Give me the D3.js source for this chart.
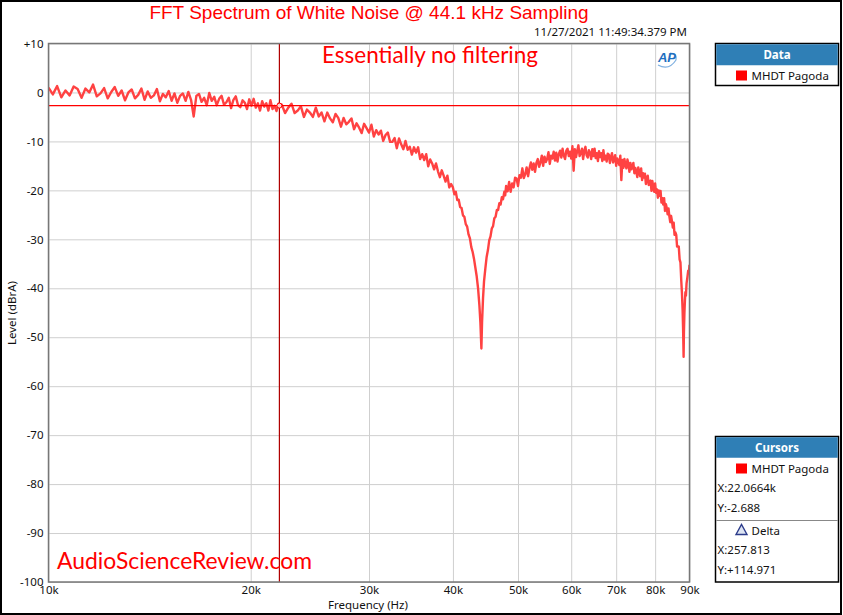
<!DOCTYPE html>
<html>
<head>
<meta charset="utf-8">
<script src="https://cdn.jsdelivr.net/npm/d3@7"></script>
<style>
  body { margin: 0; background: #fff; }
  svg { display: block; }
  .tick text { font-family: "Noto Sans", sans-serif; font-size: 11.5px; fill: #111; }
  .panel-text { font-family: "Noto Sans", sans-serif; font-size: 11.5px; fill: #111; }
</style>
</head>
<body>
<div id="chart-area"></div>
<script>

// spectrum of the noise, [kHz, dBrA]
var lowBand = [
  [10.00,1.0],[10.15,-0.4],[10.30,1.3],[10.45,-1.0],[10.60,0.4],[10.75,-0.6],[10.90,1.2],[11.05,0.7],
  [11.20,-1.1],[11.35,0.8],[11.50,0.0],[11.65,1.6],[11.80,-0.8],[11.95,-0.2],[12.10,0.9],[12.25,-1.2],
  [12.40,0.1],[12.55,1.1],[12.70,-0.7],[12.85,0.4],[13.00,-1.6],[13.15,0.0],[13.30,0.6],[13.45,-1.2],
  [13.60,-0.5],[13.75,0.8],[13.90,-1.5],[14.05,0.2],[14.20,-1.1],[14.35,-0.6],[14.50,0.7],[14.65,-1.8],
  [14.80,-0.3],[14.95,-1.0],[15.10,0.3],[15.25,-1.7],[15.40,-0.2],[15.55,-2.1],[15.70,-0.7],[15.85,-0.2],
  [16.00,-1.7],[16.15,0.1],[16.30,-1.5],[16.45,-4.9],[16.60,-0.7],[16.75,-0.3],[16.90,-1.9],[17.05,-1.1],
  [17.20,-2.6],[17.35,-0.1],[17.50,-1.7],[17.65,-0.9],[17.80,-2.6],[17.95,-1.3],[18.10,-0.7],[18.25,-2.5],
  [18.40,-2.0],[18.55,-1.1],[18.70,-3.2],[18.85,-1.5],[19.00,-0.8],[19.15,-2.6],[19.30,-3.0],[19.45,-1.6],
  [19.60,-2.1],[19.75,-3.4],[19.90,-1.4],[20.05,-2.7],[20.20,-1.3],[20.35,-3.1],[20.50,-2.2],[20.65,-3.7],
  [20.80,-1.8],[20.95,-2.9],[21.10,-2.2],[21.25,-3.7],[21.40,-1.6],[21.55,-3.4],[21.70,-2.7],[21.85,-3.8],
  [22.00,-2.3]
];
var midBand = [
  [22.25,-2.5],[22.50,-4.2],[22.75,-3.1],[23.00,-2.3],[23.25,-4.2],[23.50,-3.7],[23.75,-2.8],[24.00,-5.0],
  [24.25,-3.5],[24.50,-4.1],[24.75,-5.0],[25.00,-3.1],[25.25,-4.9],[25.50,-4.1],[25.75,-5.9],[26.00,-4.1],
  [26.25,-5.3],[26.50,-6.1],[26.75,-4.4],[27.00,-5.2],[27.25,-7.0],[27.50,-5.2],[27.75,-6.5],[28.00,-6.0],
  [28.25,-5.3],[28.50,-7.5],[28.75,-6.3],[29.00,-7.2],[29.25,-8.3],[29.50,-6.4],[29.75,-7.3],[30.00,-8.2],
  [30.25,-6.6],[30.50,-9.0],[30.75,-7.7],[31.00,-8.6],[31.25,-7.8],[31.50,-9.9],[31.75,-8.7],[32.00,-8.2],
  [32.25,-10.1],[32.50,-10.1],[32.75,-9.3],[33.00,-11.4],[33.25,-9.4],[33.50,-10.6],[33.75,-11.6],[34.00,-9.9],
  [34.25,-11.7],[34.50,-11.1],[34.75,-12.7],[35.00,-11.2],[35.25,-12.3],[35.50,-11.2],[35.75,-13.6],[36.00,-12.6],
  [36.25,-13.8],[36.50,-12.6],[36.75,-15.1],[37.00,-13.7],[37.25,-14.5],[37.50,-15.7],[37.75,-14.5],[38.00,-16.1],
  [38.25,-17.3],[38.50,-15.9],[38.75,-17.0],[39.00,-18.2],[39.25,-17.0],[39.50,-19.4],[39.75,-18.7]
];
var notchOne = [
  [40.0,-19.4],[40.2,-20.8],[40.4,-20.3],[40.6,-22.0],[40.8,-21.9],[41.0,-23.4],[41.2,-23.6],[41.4,-25.1],
  [41.6,-25.4],[41.8,-26.9],[42.0,-27.4],[42.2,-29.0],[42.4,-29.8],[42.6,-31.6],[42.8,-32.6],[43.0,-34.0],
  [43.2,-35.8],[43.4,-37.6],[43.6,-40.0],[43.8,-43.5],[43.95,-47.0],[44.1,-52.3],[44.2,-47.0],[44.35,-42.0],
  [44.5,-38.6],[44.7,-36.0],[44.9,-33.6],[45.1,-32.2],[45.3,-30.2],[45.5,-29.4],[45.7,-27.8],[45.9,-27.3],
  [46.1,-25.7],[46.3,-25.4],[46.5,-24.0],[46.7,-24.0],[46.9,-22.6],[47.1,-22.9],[47.3,-21.4],[47.5,-21.8],
  [47.7,-20.3],[47.85,-21.0]
];
var upperBand = [
  [48.00,-19.1],[48.25,-20.2],[48.50,-18.3],[48.75,-20.3],[49.00,-18.6],[49.25,-19.4],[49.50,-17.4],[49.75,-17.6],
  [50.00,-19.1],[50.25,-16.9],[50.50,-17.4],[50.75,-15.5],[51.00,-17.5],[51.25,-16.7],[51.50,-15.3],[51.75,-17.1],
  [52.00,-15.5],[52.25,-14.3],[52.50,-15.8],[52.75,-14.5],[53.00,-16.2],[53.25,-14.4],[53.50,-13.6],[53.75,-15.2],
  [54.00,-14.3],[54.25,-12.9],[54.50,-15.0],[54.75,-13.1],[55.00,-14.2],[55.25,-13.6],[55.50,-12.2],[55.75,-14.6],
  [56.00,-12.9],[56.25,-13.5],[56.50,-12.1],[56.75,-13.9],[57.00,-12.3],[57.25,-14.1],[57.50,-12.6],[57.75,-11.9],
  [58.00,-13.3],[58.25,-11.5],[58.50,-12.9],[58.75,-13.6],[59.00,-11.9],[59.25,-11.5],[59.50,-13.0],[59.75,-12.1],
  [60.00,-13.5],[60.25,-11.0],[60.50,-16.0],[60.75,-11.6],[61.00,-13.2],[61.25,-11.9],[61.50,-10.8],[61.75,-13.0],
  [62.00,-12.4],[62.25,-11.5],[62.50,-13.6],[62.75,-11.9],[63.00,-11.1],[63.25,-12.8],[63.50,-13.3],[63.75,-11.8],
  [64.00,-12.3],[64.25,-13.6],[64.50,-11.6],[64.75,-13.0],[65.00,-11.5],[65.25,-13.4],[65.50,-12.4],[65.75,-14.0],
  [66.00,-12.0],[66.25,-13.2],[66.50,-12.4],[66.75,-14.0],[67.00,-11.8],[67.25,-13.7],[67.50,-12.9],[67.75,-14.1],
  [68.00,-12.5],[68.25,-12.7],[68.50,-14.4],[68.75,-13.2],[69.00,-12.4],[69.25,-14.3],[69.50,-13.8],[69.75,-12.8],
  [70.00,-15.0],[70.25,-13.5],[70.50,-14.0],[70.75,-14.8],[71.00,-12.9],[71.25,-17.9],[71.50,-13.8],[71.75,-15.4],
  [72.00,-13.6],[72.25,-14.7],[72.50,-15.5],[72.75,-13.7],[73.00,-14.5],[73.25,-16.2],[73.50,-14.4],[73.75,-15.7],
  [74.00,-15.1],[74.25,-14.4],[74.50,-16.5],[74.75,-15.4],[75.00,-16.2],[75.25,-17.3],[75.50,-15.3],[75.75,-16.3],
  [76.00,-17.1],[76.25,-15.5],[76.50,-17.9],[76.75,-16.5],[77.00,-17.4],[77.25,-16.6],[77.50,-18.7],[77.75,-17.5],
  [78.00,-17.0],[78.25,-18.9],[78.50,-18.8],[78.75,-18.0],[79.00,-20.1],[79.25,-18.1],[79.50,-19.3],[79.75,-20.3],
  [80.00,-18.6],[80.25,-20.5],[80.50,-19.8],[80.75,-21.5],[81.00,-20.0],[81.25,-21.1],[81.50,-20.1],[81.75,-22.5],
  [82.00,-21.6],[82.25,-22.9],[82.50,-21.6],[82.75,-24.2],[83.00,-22.8],[83.25,-23.6],[83.50,-24.9],[83.75,-23.7],
  [84.00,-25.3],[84.25,-26.5],[84.50,-25.2],[84.75,-26.3],[85.00,-27.6],[85.25,-26.6],[85.50,-29.1],[85.75,-28.6],
  [86.00,-29.1],[86.25,-31.5],[86.50,-31.4],[86.75,-31.5],[87.00,-34.1],[87.25,-34.7]
];
var notchTwo = [
  [87.5,-38.5],[87.7,-41.0],[87.9,-44.5],[88.05,-48.5],[88.2,-54.0],[88.3,-49.0],[88.45,-45.0],[88.6,-42.5],
  [88.75,-40.8],[88.9,-41.5],[89.1,-39.0],[89.35,-37.8],[89.6,-36.4],[89.8,-36.9],[90.0,-35.2]
];

var xTicks = [10000,20000,30000,40000,50000,60000,70000,80000,90000];
var xTickLabels = ["10k","20k","30k","40k","50k","60k","70k","80k","90k"];
var yTicks = [10,0,-10,-20,-30,-40,-50,-60,-70,-80,-90,-100];

var cursorX = 22066.4;
var cursorY = -2.688;
var seriesName = "MHDT Pagoda";
var cursorReadout = ["X:22.0664k","Y:-2.688"];
var deltaReadout = ["X:257.813","Y:+114.971"];

var total_width = 843;
var total_height = 615;

var svg = d3.select('#chart-area').append('svg')
            .attr("width",total_width)
            .attr("height",total_height);

var plot = {left:48.5, right:689.5, top:43.5, bottom:582};
var width = plot.right - plot.left;
var height = plot.bottom - plot.top;

var x = d3.scaleLog().domain([10000,90000]).range([0,width]);
var y = d3.scaleLinear().domain([-100,10]).range([height,0]);

// outer frame
svg.append("rect")
   .attr("x",1).attr("y",1)
   .attr("width",total_width-3).attr("height",total_height-2)
   .attr("fill","#fff").attr("stroke","#000").attr("stroke-width",2);

svg.append("text")
   .attr("x",369).attr("y",19)
   .attr("text-anchor","middle")
   .attr("font-family","'Liberation Sans', Arial, sans-serif")
   .attr("font-size","19px")
   .attr("fill","#ff0000")
   .text("FFT Spectrum of White Noise @ 44.1 kHz Sampling");

svg.append("text")
   .attr("x",687).attr("y",36)
   .attr("text-anchor","end")
   .attr("font-family","'Noto Sans', sans-serif")
   .attr("font-size","11.5px")
   .attr("fill","#111")
   .text("11/27/2021 11:49:34.379 PM");

var chart = svg.append('g')
               .attr("transform","translate("+plot.left+","+plot.top+")");

// grid
chart.append('g').attr("class","grid")
     .call(d3.axisLeft(y).tickValues(yTicks).tickSize(-width).tickFormat(""))
     .call(g => g.select(".domain").remove())
     .call(g => g.selectAll("line").attr("stroke","#cfcfcf"));
chart.append('g').attr("class","grid")
     .call(d3.axisTop(x).tickValues(xTicks).tickSize(-height).tickFormat(""))
     .call(g => g.select(".domain").remove())
     .call(g => g.selectAll("line").attr("stroke","#cfcfcf"));

// tick labels
chart.append('g')
     .call(d3.axisLeft(y).tickValues(yTicks).tickSize(0).tickPadding(5)
             .tickFormat(function(d){ return d > 0 ? "+"+d : String(d); }))
     .call(g => g.select(".domain").remove());
chart.append('g')
     .attr("transform","translate(0,"+height+")")
     .call(d3.axisBottom(x).tickValues(xTicks).tickSize(0).tickPadding(4)
             .tickFormat(function(d,i){ return xTickLabels[i]; }))
     .call(g => g.select(".domain").remove());

svg.append("text")
   .attr("x",368).attr("y",609)
   .attr("text-anchor","middle")
   .attr("font-family","'Noto Sans', sans-serif")
   .attr("font-size","11.5px")
   .attr("fill","#111")
   .text("Frequency (Hz)");

svg.append("text")
   .attr("transform","translate(16,313) rotate(-90)")
   .attr("text-anchor","middle")
   .attr("font-family","'Noto Sans', sans-serif")
   .attr("font-size","11.5px")
   .attr("fill","#111")
   .text("Level (dBrA)");

chart.append("clipPath").attr("id","plot-clip")
     .append("rect").attr("width",width).attr("height",height);

var spectrum = lowBand.concat(midBand, notchOne, upperBand, notchTwo);

var lineFunction = d3.line()
           .x(function(d) { return x(d[0]*1000); })
           .y(function(d) { return y(d[1]); });

chart.append("path")
     .datum(spectrum)
     .attr("clip-path","url(#plot-clip)")
     .attr("d",lineFunction)
     .attr("fill","none")
     .attr("stroke","#ff4242")
     .attr("stroke-width",2.4)
     .attr("stroke-linejoin","round");

// cursors
chart.append("line")
     .attr("x1",0).attr("x2",width)
     .attr("y1",y(cursorY)).attr("y2",y(cursorY))
     .attr("stroke","#ff0000").attr("stroke-width",1.2);
chart.append("line")
     .attr("x1",x(cursorX)).attr("x2",x(cursorX))
     .attr("y1",0).attr("y2",height)
     .attr("stroke","#b00000").attr("stroke-width",1.2);
chart.append("circle")
     .attr("cx",x(cursorX)).attr("cy",y(cursorY)).attr("r",2.5)
     .attr("fill","#ffd0d0").attr("stroke","#ff0000");

chart.append("rect")
     .attr("width",width).attr("height",height)
     .attr("fill","none").attr("stroke","#777").attr("stroke-width",1.5);

// notes on the plot
svg.append("text")
   .attr("x",322).attr("y",63)
   .attr("font-family","Lato, 'Open Sans', sans-serif")
   .attr("font-size","23px")
   .attr("textLength",216).attr("lengthAdjust","spacingAndGlyphs")
   .attr("fill","#ff0000")
   .text("Essentially no filtering");

svg.append("text")
   .attr("x",57).attr("y",569)
   .attr("font-family","Lato, 'Open Sans', sans-serif")
   .attr("font-size","23px")
   .attr("textLength",255).attr("lengthAdjust","spacingAndGlyphs")
   .attr("fill","#ff0000")
   .text("AudioScienceReview.com");

var logo = svg.append("g").attr("transform","translate(667,62)");
logo.append("path")
    .attr("d","M-9,3 Q2,9 9,-2 Q10,-9 3,-9")
    .attr("fill","none").attr("stroke","#7fb0e0").attr("stroke-width",1.2);
logo.append("text")
    .attr("text-anchor","middle")
    .attr("font-family","'Liberation Sans', Arial, sans-serif")
    .attr("font-size","13px").attr("font-weight","bold").attr("font-style","italic")
    .attr("fill","#1f6fc0")
    .text("AP");

// Data legend panel
var dataBox = svg.append("g").attr("transform","translate(715.5,43.5)");
dataBox.append("rect").attr("width",123).attr("height",42)
       .attr("fill","#fff").attr("stroke","#000").attr("stroke-width",1.5);
dataBox.append("rect").attr("x",0.75).attr("y",0.75).attr("width",121.5).attr("height",21)
       .attr("fill","#2f7fb6");
dataBox.append("text").attr("class","panel-text")
       .attr("x",61.5).attr("y",15).attr("text-anchor","middle")
       .attr("font-weight","bold").style("fill","#fff")
       .text("Data");
dataBox.append("rect").attr("x",20.5).attr("y",27).attr("width",11).attr("height",10)
       .attr("fill","#ff0000");
dataBox.append("text").attr("class","panel-text")
       .attr("x",36).attr("y",36)
       .text(seriesName);

// Cursors panel
var curBox = svg.append("g").attr("transform","translate(715.5,436.5)");
curBox.append("rect").attr("width",123).attr("height",145.5)
      .attr("fill","#fff").attr("stroke","#000").attr("stroke-width",1.5);
curBox.append("rect").attr("x",0.75).attr("y",0.75).attr("width",121.5).attr("height",20.5)
      .attr("fill","#2f7fb6");
curBox.append("text").attr("class","panel-text")
      .attr("x",61.5).attr("y",15).attr("text-anchor","middle")
      .attr("font-weight","bold").style("fill","#fff")
      .text("Cursors");
curBox.append("rect").attr("x",20.5).attr("y",27).attr("width",11).attr("height",10)
      .attr("fill","#ff0000");
curBox.append("text").attr("class","panel-text")
      .attr("x",36).attr("y",36).text(seriesName);
curBox.selectAll("text.readout").data(cursorReadout).enter().append("text")
      .attr("class","panel-text readout")
      .attr("x",2).attr("y",(d,i) => 55 + i*20.5)
      .text(d => d);
curBox.append("line").attr("x1",0.75).attr("x2",122.25).attr("y1",84).attr("y2",84)
      .attr("stroke","#888").attr("stroke-width",1);
curBox.append("path")
      .attr("d","M20.5,98 L26,88 L31.5,98 Z")
      .attr("fill","#dde4f2").attr("stroke","#2b3b8a").attr("stroke-width",1.4);
curBox.append("text").attr("class","panel-text")
      .attr("x",36).attr("y",98).text("Delta");
curBox.selectAll("text.delta").data(deltaReadout).enter().append("text")
      .attr("class","panel-text delta")
      .attr("x",2).attr("y",(d,i) => 117 + i*20.5)
      .text(d => d);

</script>
</body>
</html>
